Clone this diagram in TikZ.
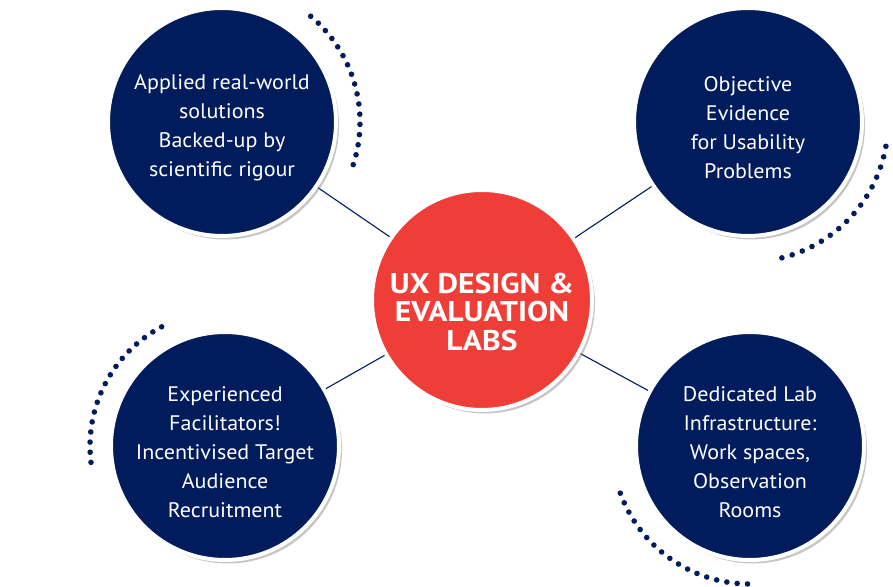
\documentclass[tikz,border=0pt]{standalone}
\usepackage{fontspec}
\setmainfont{PT Sans}[FakeStretch=1.05]
\newfontfamily\hubfont{PT Sans}[FakeStretch=1.11]
\usepackage{tikz}
\usetikzlibrary{shadows,backgrounds}
\definecolor{Navy}{RGB}{1,28,92}
\definecolor{LabRed}{RGB}{239,61,56}

\begin{document}
\begin{tikzpicture}[x=1pt, y=1pt,
		topic/.style={circle, fill=Navy, draw=white, line width=4pt, minimum size=228pt, inner sep=0pt,
			drop shadow={shadow xshift=3pt, shadow yshift=-3.5pt, opacity=0.45}},
		hub/.style={topic, fill=LabRed, minimum size=220pt},
		topictext/.style={align=center, text=white, inner sep=0pt, font=\fontsize{21}{29}\selectfont},
		hubtext/.style={align=center, text=white, inner sep=0pt, font=\hubfont\fontsize{28.5}{28.5}\selectfont\bfseries},
		link/.style={draw=Navy, line width=1.1pt}]
	\useasboundingbox (0,0) rectangle (893,586);

	% circles
	\node[hub] (c) at (482,286) {};
	\node[topic] (tl) at (222,464) {};
	\node[topic] (tr) at (748,464) {};
	\node[topic] (bl) at (225,140) {};
	\node[topic] (br) at (750,140) {};

	% links behind the circles
	\begin{pgfonlayer}{background}
		\draw[link] (c.center) -- (tl.center);
		\draw[link] (c.center) -- (tr.center);
		\draw[link] (c.center) -- (bl.center);
		\draw[link] (c.center) -- (br.center);
	\end{pgfonlayer}

	% texts
	\node[hubtext] (ctext) at ([yshift=-12pt]c.center) {UX DESIGN \&\\EVALUATION\\LABS};
	\node[topictext] (tltext) at ([yshift=-6pt]tl.center) {Applied real-world\\solutions\\Backed-up by\\scientific rigour};
	\node[topictext] (trtext) at ([yshift=-6pt]tr.center) {Objective\\Evidence\\for Usability\\Problems};
	\node[topictext] (bltext) at ([yshift=-6.5pt]bl.center) {Experienced\\Facilitators!\\Incentivised Target\\Audience\\Recruitment};
	\node[topictext] (brtext) at ([yshift=-6.5pt]br.center) {Dedicated Lab\\Infrastructure:\\Work spaces,\\Observation\\Rooms};

	% dotted arcs
	\foreach \i in {0,...,16} \fill[Navy] (tl.center) ++({50-4.25*\i}:138) circle (2.8);
	\foreach \i in {0,...,15} \fill[Navy] (tr.center) ++({-10-4.4*\i}:140) circle (2.8);
	\foreach \i in {0,...,16} \fill[Navy] (bl.center) ++({118+4.31*\i}:135) circle (2.8);
	\foreach \i in {0,...,16} \fill[Navy] (br.center) ++({200+4.31*\i}:138) circle (2.8);
\end{tikzpicture}
\end{document}
